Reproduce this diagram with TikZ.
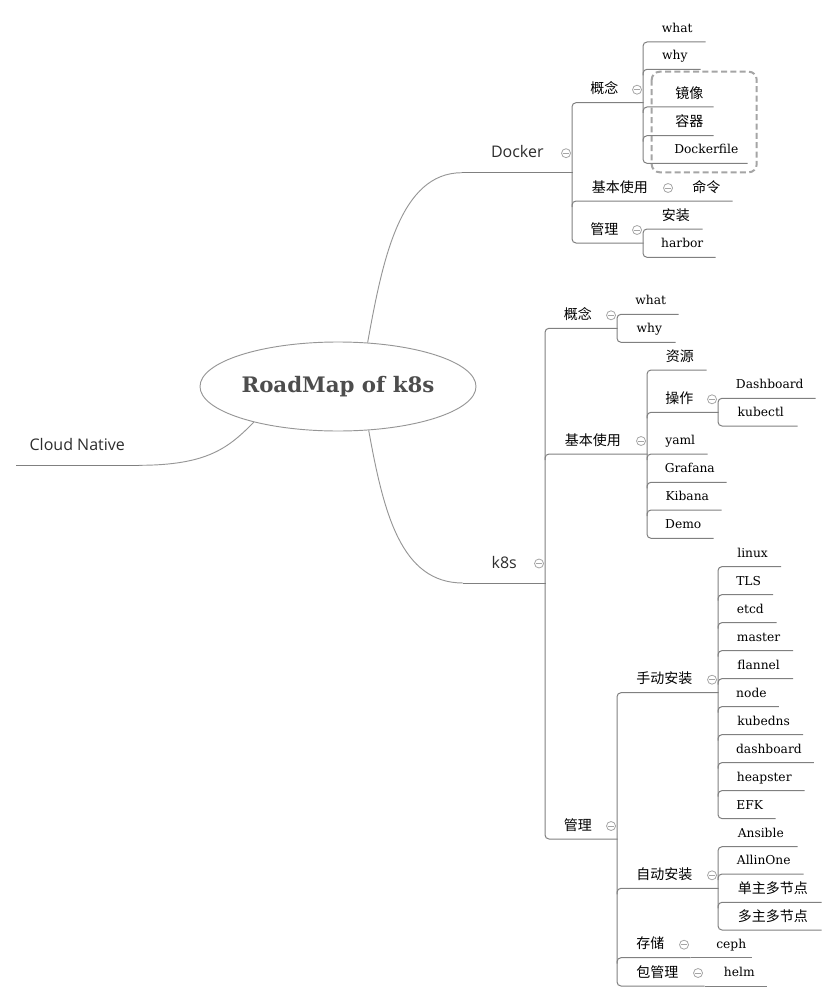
\documentclass[tikz,border=0pt]{standalone}
\usepackage{fontspec}
\setmainfont{DejaVu Serif}
\setsansfont{Open Sans}
\newfontfamily\cjk{Noto Sans CJK SC}
\usetikzlibrary{positioning,shapes.geometric}
\definecolor{mmline}{RGB}{128,128,128}
\definecolor{mmcurve}{RGB}{150,150,150}
\definecolor{mmfold}{RGB}{165,165,165}
\definecolor{mmtitle}{RGB}{77,77,77}
\definecolor{mmtext}{RGB}{45,45,45}
\newlength\pxu
\setlength\pxu{0.75pt}

\begin{document}
\begin{tikzpicture}[
  x=0.75pt, y=-0.75pt,
  link/.style={draw=mmline,line width=0.75pt},
  curve/.style={draw=mmcurve,line width=0.7pt},
  root/.style={ellipse,draw=mmcurve,line width=0.7pt,minimum width=276\pxu,
               minimum height=89\pxu,inner sep=0pt,text=mmtitle,
               font=\bfseries\fontsize{16}{19}\selectfont},
  main/.style={anchor=south west,inner xsep=0pt,inner ysep=11pt,text depth=0pt,
               text=mmtext,font=\sffamily\fontsize{12}{14}\selectfont},
  branch/.style={anchor=south west,inner xsep=0pt,inner ysep=6.5pt,text depth=0pt,
                 text=black,font=\cjk\fontsize{10.5}{12}\selectfont,
                 execute at end node={\hspace*{7\pxu}}},
  leaf/.style={anchor=south west,inner xsep=0pt,inner ysep=7pt,text depth=0pt,
               text=black,font=\fontsize{9.2}{11}\selectfont,
               execute at begin node={\hspace*{6\pxu}}},
  zh/.style={font=\cjk\fontsize{10.5}{12}\selectfont,inner ysep=6.5pt},
  boxed/.style={execute at begin node={\hspace*{16\pxu}}},
  fold/.style={circle,draw=mmfold,line width=0.6pt,minimum size=9\pxu,inner sep=0pt,
               path picture={\draw[mmfold,line width=0.6pt]
                 ([xshift=-2pt]path picture bounding box.center) --
                 ([xshift=2pt]path picture bounding box.center);}},
  boundary/.style={draw=mmfold,line width=1.5pt,dash pattern=on 4.5pt off 2.5pt,
                   rounded corners=8\pxu}
]
  \useasboundingbox (0,0) rectangle (837,1002);

  % centre and first level
  \node[root] (root) at (338,386.5) {RoadMap of k8s};
  \node[main,minimum width=110\pxu] (dock) at (462,172.7) {Docker};
  \node[main,minimum width=82\pxu] (kube) at (463,583) {k8s};
  \node[main,minimum width=122\pxu] (cloud) at (16,465.3) {Cloud Native};

  \draw[curve] (root.56) .. controls +(15,-83) and +(-62,0) .. (dock.south west);
  \draw[curve] (root.-55) .. controls +(15,83) and +(-62,0) .. (kube.south west);
  \draw[curve] (cloud.south east) .. controls +(70,0) and +(-25,25) .. (root.203);
  \foreach \n in {dock,kube,cloud}
    \draw[link] (\n.south west) -- (\n.south east);

  % Docker
  \node[branch,minimum width=71\pxu] (dcon) at (572,102.7) {概念};
  \node[branch,minimum width=102\pxu] (dbasic) at (572,201) {基本使用};
  \node[leaf,zh,minimum width=58\pxu] (dcmd) at (674,201) {命令};
  \node[branch,minimum width=71\pxu] (dman) at (572,243) {管理};

  \node[leaf,minimum width=62\pxu] (dwhat) at (643,42) {what};
  \node[leaf,minimum width=57\pxu] (dwhy) at (643,69.3) {why};
  \node[leaf,zh,boxed,minimum width=70\pxu] (dimg) at (643,107) {镜像};
  \node[leaf,zh,boxed,minimum width=70\pxu] (dctr) at (643,135.7) {容器};
  \node[leaf,boxed,minimum width=104\pxu] (dfile) at (643,163.3) {Dockerfile};
  \node[leaf,zh,minimum width=59\pxu] (dinst) at (643,229) {安装};
  \node[leaf,minimum width=72\pxu] (dharbor) at (643,257.3) {harbor};

  \draw[boundary] (651.7,71.7) rectangle (756.7,172.3);

  \draw[link,rounded corners=4\pxu] (dcon.south east) -- (dcon.south west)
    -- (dman.south west) -- (dman.south east);
  \draw[link,rounded corners=4\pxu] ([yshift=-6\pxu]dbasic.south west)
    -- (dbasic.south west) -- (dcmd.south west) -- (dcmd.south east);
  \draw[link,rounded corners=4\pxu] (dwhat.south east) -- (dwhat.south west)
    -- (dfile.south west) -- (dfile.south east);
  \foreach \n in {dwhy,dimg,dctr}
    \draw[link,rounded corners=4\pxu] ([yshift=-6\pxu]\n.south west)
      -- (\n.south west) -- (\n.south east);
  \draw[link,rounded corners=4\pxu] (dinst.south east) -- (dinst.south west)
    -- (dharbor.south west) -- (dharbor.south east);

  % k8s
  \node[branch,minimum width=72\pxu] (kcon) at (545,328.3) {概念};
  \node[branch,minimum width=102\pxu] (kbasic) at (545,454) {基本使用};
  \node[branch,minimum width=72\pxu] (kman) at (545,839) {管理};

  \node[leaf,minimum width=61\pxu] (kwhat) at (617,314.3) {what};
  \node[leaf,minimum width=58\pxu] (kwhy) at (617,342.3) {why};

  \node[leaf,zh,minimum width=59\pxu] (kres) at (647,370) {资源};
  \node[branch,minimum width=71\pxu] (kop) at (647,412.3) {操作};
  \node[leaf,minimum width=97\pxu] (kdash) at (718,398.3) {Dashboard};
  \node[leaf,minimum width=79\pxu] (kctl) at (718,426) {kubectl};
  \node[leaf,minimum width=60\pxu] (kyaml) at (647,454) {yaml};
  \node[leaf,minimum width=79\pxu] (kgraf) at (647,482.3) {Grafana};
  \node[leaf,minimum width=74\pxu] (kkib) at (647,510) {Kibana};
  \node[leaf,minimum width=66\pxu] (kdemo) at (647,538.3) {Demo};

  \node[branch,minimum width=101\pxu] (kmanual) at (617,692.7) {手动安装};
  \foreach \n/\t/\w [count=\i from 0] in {mlinux/linux/62.7,mtls/TLS/54.7,
      metcd/etcd/58,mmaster/master/74.7,mflannel/flannel/74.7,mnode/node/60.3,
      mdns/kubedns/84.7,mdash/dashboard/95.3,mheap/heapster/86,mefk/EFK/57}
    \node[leaf,minimum width=\w\pxu] (\n) at (718,566.6+28*\i) {\t};

  \node[branch,minimum width=101\pxu] (kauto) at (617,888.3) {自动安装};
  \node[leaf,minimum width=79\pxu] (aans) at (718,846.7) {Ansible};
  \node[leaf,minimum width=85\pxu] (aall) at (718,874) {AllinOne};
  \node[leaf,zh,minimum width=103\pxu] (asingle) at (718,902.3) {单主多节点};
  \node[leaf,zh,minimum width=103\pxu] (amulti) at (718,930) {多主多节点};

  \node[branch,minimum width=73\pxu] (kstore) at (617,957.7) {存储};
  \node[leaf,minimum width=46\pxu] (kceph) at (705,957.7) {ceph};
  \node[branch,minimum width=87\pxu] (kpkg) at (617,986) {包管理};
  \node[leaf,minimum width=60\pxu] (khelm) at (706,986) {helm};

  \draw[link,rounded corners=4\pxu] (kcon.south east) -- (kcon.south west)
    -- (kman.south west) -- (kman.south east);
  \draw[link,rounded corners=4\pxu] ([yshift=-6\pxu]kbasic.south west)
    -- (kbasic.south west) -- (kbasic.south east);

  \draw[link,rounded corners=4\pxu] (kwhat.south east) -- (kwhat.south west)
    -- (kwhy.south west) -- (kwhy.south east);

  \draw[link,rounded corners=4\pxu] (kres.south east) -- (kres.south west)
    -- (kdemo.south west) -- (kdemo.south east);
  \foreach \n in {kop,kyaml,kgraf,kkib}
    \draw[link,rounded corners=4\pxu] ([yshift=-6\pxu]\n.south west)
      -- (\n.south west) -- (\n.south east);
  \draw[link,rounded corners=4\pxu] (kdash.south east) -- (kdash.south west)
    -- (kctl.south west) -- (kctl.south east);

  \draw[link,rounded corners=4\pxu] (kmanual.south east) -- (kmanual.south west)
    -- (kpkg.south west) -- (kpkg.south east);
  \foreach \n in {kauto,kstore}
    \draw[link,rounded corners=4\pxu] ([yshift=-6\pxu]\n.south west)
      -- (\n.south west) -- (\n.south east);
  \draw[link] (kstore.south east) -- (kceph.south west) -- (kceph.south east);
  \draw[link] (kpkg.south east) -- (khelm.south west) -- (khelm.south east);

  \draw[link,rounded corners=4\pxu] (mlinux.south east) -- (mlinux.south west)
    -- (mefk.south west) -- (mefk.south east);
  \foreach \n in {mtls,metcd,mmaster,mflannel,mnode,mdns,mdash,mheap}
    \draw[link,rounded corners=4\pxu] ([yshift=-6\pxu]\n.south west)
      -- (\n.south west) -- (\n.south east);

  \draw[link,rounded corners=4\pxu] (aans.south east) -- (aans.south west)
    -- (amulti.south west) -- (amulti.south east);
  \foreach \n in {aall,asingle}
    \draw[link,rounded corners=4\pxu] ([yshift=-6\pxu]\n.south west)
      -- (\n.south west) -- (\n.south east);

  % collapse markers
  \foreach \n in {dock,kube}
    \node[fold] (\n-f) at ([shift={(-6.5,-19.5)}]\n.south east) {};
  \foreach \n in {dcon,dbasic,dman,kcon,kbasic,kop,kman,kmanual,kauto,kstore,kpkg}
    \node[fold] (\n-f) at ([shift={(-6.5,-13)}]\n.south east) {};
\end{tikzpicture}
\end{document}
